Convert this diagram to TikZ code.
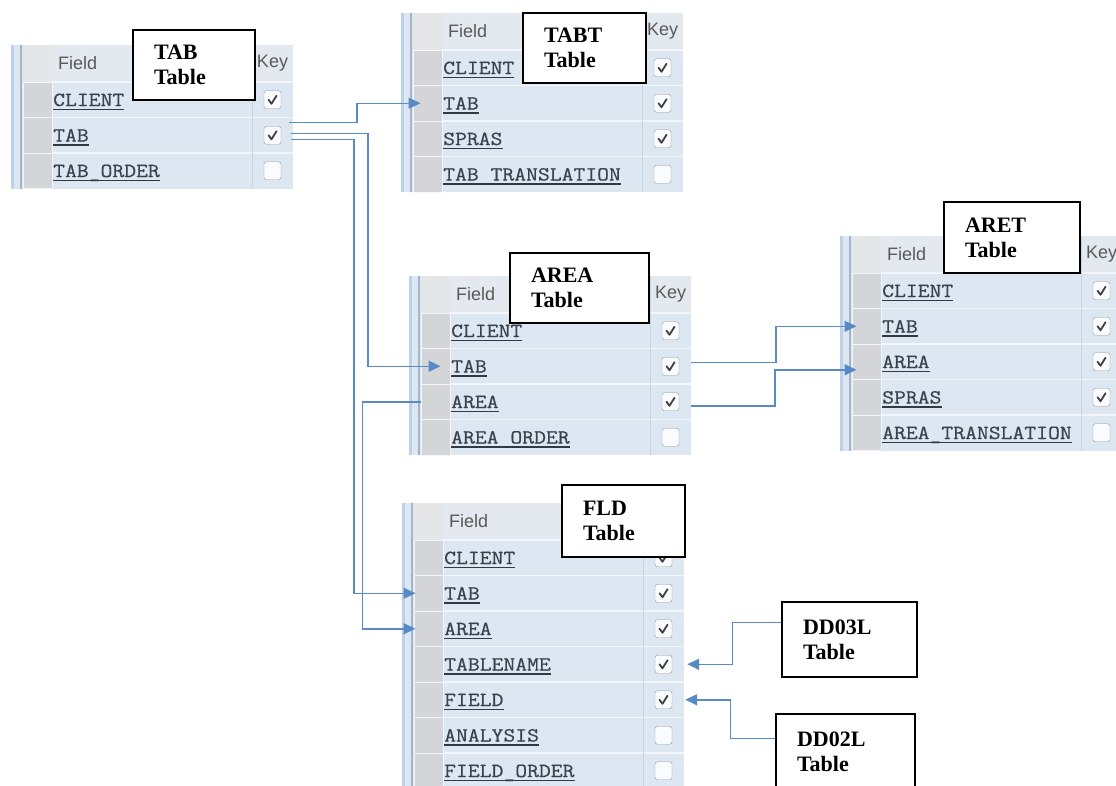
\documentclass[tikz,border=0pt]{standalone}
\usepackage{fontspec}
\usepackage{tikz}
\usetikzlibrary{arrows.meta,calc}
\newfontfamily\fldfont[FakeStretch=1.15,FakeBold=0.6]{Latin Modern Mono}
\newfontfamily\hdrfont{Liberation Sans}
\newfontfamily\lblfont{Liberation Serif}
\definecolor{tblbg}{HTML}{DDE7F2}
\definecolor{hdrbg}{HTML}{E4E9EF}
\definecolor{greycol}{HTML}{D3D5D8}
\definecolor{rowsep}{HTML}{F2F6FA}
\definecolor{edgeA}{HTML}{BBD2EA}
\definecolor{edgeB}{HTML}{A3B6CB}
\definecolor{keysep}{HTML}{C9D3DE}
\definecolor{fldtext}{HTML}{3A434D}
\definecolor{linkblue}{HTML}{5A8AC6}
\definecolor{boxgrey}{HTML}{8E98A3}
\tikzset{
  link/.style={-{Triangle[length=12pt,width=11pt]}, line width=1.5pt, linkblue},
  greycell/.style={rectangle, fill=greycol, draw=rowsep, line width=1pt, minimum width=29pt, minimum height=35.5pt, inner sep=0pt},
  keycell/.style={rectangle, minimum width=41pt, minimum height=35.5pt, inner sep=0pt},
  fldname/.style={anchor=base west, inner sep=0pt, text=fldtext, font=\fldfont\fontsize{20}{20}\selectfont},
  hdrtext/.style={inner sep=0pt, text=black!65, font=\hdrfont\fontsize{18}{18}\selectfont},
  ckbox/.style={rectangle, rounded corners=2.5pt, draw=boxgrey, fill=white!85!tblbg, minimum width=17pt, minimum height=18pt, inner sep=0pt},
  tick/.style={line width=1.8pt, black!75, line cap=round, line join=round},
  uline/.style={line width=1.6pt, fldtext!85!black},
  sepline/.style={rowsep, line width=1.5pt},
  lbl/.style={draw=black, line width=1.4pt, fill=white, align=left, inner xsep=21pt, inner ysep=0pt, font=\lblfont\bfseries\fontsize{22}{25}\selectfont},
}

\begin{document}
\begin{tikzpicture}[x=1pt, y=-1pt]
\useasboundingbox (0,0) rectangle (1116,785);
\fill[white] (0,0) rectangle (1116,785);
% --- TAB table ---
\begin{scope}[shift={(8,45)}]
\fill[tblbg] (3,0) rectangle (285,143.5);
\fill[hdrbg] (44,0) rectangle (285,37);
\fill[greycol!60!white] (15,0) rectangle (44,37);
\node[hdrtext, anchor=west] (tab-hf) at (50,18.5) {Field};
\node[hdrtext] (tab-hk) at (264.5,18.5) {Key};
\foreach \i/\fname/\chk in {1/CLIENT/1, 2/TAB/1, 3/TAB\_ORDER/0} {
  \node[greycell] (tab-\i) at (29.5,{37+35.5*\i-17.75}) {};
  \draw[sepline] (44,{37+35.5*(\i-1)}) -- (285,{37+35.5*(\i-1)});
  \node[fldname] (tab-\i-f) at (45,{37+35.5*\i-11.5}) {\fname};
  \draw[uline] ([yshift=-3.5pt]tab-\i-f.base west) -- ([yshift=-3.5pt]tab-\i-f.base east);
  \node[keycell] (tab-\i-key) at (264.5,{37+35.5*\i-17.75}) {};
  \node[ckbox] at (tab-\i-key) {};
  \ifnum\chk=1\relax \draw[tick] (tab-\i-key.center) ++(-4,0) -- ++(3,4) -- ++(5,-8); \fi
}
\draw[edgeA, line width=3pt] (4,0) -- (4,143.5);
\draw[edgeB, line width=2pt] (13,0) -- (13,143.5);
\draw[keysep, line width=1pt] (244,0) -- (244,143.5);
\end{scope}
% --- TABT table ---
\begin{scope}[shift={(398,13)}]
\fill[tblbg] (3,0) rectangle (285,179);
\fill[hdrbg] (44,0) rectangle (285,37);
\fill[greycol!60!white] (15,0) rectangle (44,37);
\node[hdrtext, anchor=west] (tabt-hf) at (50,18.5) {Field};
\node[hdrtext] (tabt-hk) at (264.5,18.5) {Key};
\foreach \i/\fname/\chk in {1/CLIENT/1, 2/TAB/1, 3/SPRAS/1, 4/TAB\_TRANSLATION/0} {
  \node[greycell] (tabt-\i) at (29.5,{37+35.5*\i-17.75}) {};
  \draw[sepline] (44,{37+35.5*(\i-1)}) -- (285,{37+35.5*(\i-1)});
  \node[fldname] (tabt-\i-f) at (45,{37+35.5*\i-11.5}) {\fname};
  \draw[uline] ([yshift=-3.5pt]tabt-\i-f.base west) -- ([yshift=-3.5pt]tabt-\i-f.base east);
  \node[keycell] (tabt-\i-key) at (264.5,{37+35.5*\i-17.75}) {};
  \node[ckbox] at (tabt-\i-key) {};
  \ifnum\chk=1\relax \draw[tick] (tabt-\i-key.center) ++(-4,0) -- ++(3,4) -- ++(5,-8); \fi
}
\draw[edgeA, line width=3pt] (4,0) -- (4,179);
\draw[edgeB, line width=2pt] (13,0) -- (13,179);
\draw[keysep, line width=1pt] (244,0) -- (244,179);
\end{scope}
% --- AREA table ---
\begin{scope}[shift={(406,276)}]
\fill[tblbg] (3,0) rectangle (285,179);
\fill[hdrbg] (44,0) rectangle (285,37);
\fill[greycol!60!white] (15,0) rectangle (44,37);
\node[hdrtext, anchor=west] (area-hf) at (50,18.5) {Field};
\node[hdrtext] (area-hk) at (264.5,18.5) {Key};
\foreach \i/\fname/\chk in {1/CLIENT/1, 2/TAB/1, 3/AREA/1, 4/AREA\_ORDER/0} {
  \node[greycell] (area-\i) at (29.5,{37+35.5*\i-17.75}) {};
  \draw[sepline] (44,{37+35.5*(\i-1)}) -- (285,{37+35.5*(\i-1)});
  \node[fldname] (area-\i-f) at (45,{37+35.5*\i-11.5}) {\fname};
  \draw[uline] ([yshift=-3.5pt]area-\i-f.base west) -- ([yshift=-3.5pt]area-\i-f.base east);
  \node[keycell] (area-\i-key) at (264.5,{37+35.5*\i-17.75}) {};
  \node[ckbox] at (area-\i-key) {};
  \ifnum\chk=1\relax \draw[tick] (area-\i-key.center) ++(-4,0) -- ++(3,4) -- ++(5,-8); \fi
}
\draw[edgeA, line width=3pt] (4,0) -- (4,179);
\draw[edgeB, line width=2pt] (13,0) -- (13,179);
\draw[keysep, line width=1pt] (244,0) -- (244,179);
\end{scope}
% --- ARET table ---
\begin{scope}[shift={(837,236)}]
\fill[tblbg] (3,0) rectangle (285,214.5);
\fill[hdrbg] (44,0) rectangle (285,37);
\fill[greycol!60!white] (15,0) rectangle (44,37);
\node[hdrtext, anchor=west] (aret-hf) at (50,18.5) {Field};
\node[hdrtext] (aret-hk) at (264.5,18.5) {Key};
\foreach \i/\fname/\chk in {1/CLIENT/1, 2/TAB/1, 3/AREA/1, 4/SPRAS/1, 5/AREA\_TRANSLATION/0} {
  \node[greycell] (aret-\i) at (29.5,{37+35.5*\i-17.75}) {};
  \draw[sepline] (44,{37+35.5*(\i-1)}) -- (285,{37+35.5*(\i-1)});
  \node[fldname] (aret-\i-f) at (45,{37+35.5*\i-11.5}) {\fname};
  \draw[uline] ([yshift=-3.5pt]aret-\i-f.base west) -- ([yshift=-3.5pt]aret-\i-f.base east);
  \node[keycell] (aret-\i-key) at (264.5,{37+35.5*\i-17.75}) {};
  \node[ckbox] at (aret-\i-key) {};
  \ifnum\chk=1\relax \draw[tick] (aret-\i-key.center) ++(-4,0) -- ++(3,4) -- ++(5,-8); \fi
}
\draw[edgeA, line width=3pt] (4,0) -- (4,214.5);
\draw[edgeB, line width=2pt] (13,0) -- (13,214.5);
\draw[keysep, line width=1pt] (244,0) -- (244,214.5);
\end{scope}
% --- FLD table ---
\begin{scope}[shift={(399,503)}]
\fill[tblbg] (3,0) rectangle (285,285.5);
\fill[hdrbg] (44,0) rectangle (285,37);
\fill[greycol!60!white] (15,0) rectangle (44,37);
\node[hdrtext, anchor=west] (fld-hf) at (50,18.5) {Field};
\node[hdrtext] (fld-hk) at (264.5,18.5) {Key};
\foreach \i/\fname/\chk in {1/CLIENT/1, 2/TAB/1, 3/AREA/1, 4/TABLENAME/1, 5/FIELD/1, 6/ANALYSIS/0, 7/FIELD\_ORDER/0} {
  \node[greycell] (fld-\i) at (29.5,{37+35.5*\i-17.75}) {};
  \draw[sepline] (44,{37+35.5*(\i-1)}) -- (285,{37+35.5*(\i-1)});
  \node[fldname] (fld-\i-f) at (45,{37+35.5*\i-11.5}) {\fname};
  \draw[uline] ([yshift=-3.5pt]fld-\i-f.base west) -- ([yshift=-3.5pt]fld-\i-f.base east);
  \node[keycell] (fld-\i-key) at (264.5,{37+35.5*\i-17.75}) {};
  \node[ckbox] at (fld-\i-key) {};
  \ifnum\chk=1\relax \draw[tick] (fld-\i-key.center) ++(-4,0) -- ++(3,4) -- ++(5,-8); \fi
}
\draw[edgeA, line width=3pt] (4,0) -- (4,285.5);
\draw[edgeB, line width=2pt] (13,0) -- (13,285.5);
\draw[keysep, line width=1pt] (244,0) -- (244,285.5);
\end{scope}
% --- label boxes ---
\node[lbl, text width=80pt, minimum height=70pt] (tab-lbl) at (194,65) {TAB\\Table};
\node[lbl, text width=81pt, minimum height=70pt] (tabt-lbl) at (584.5,48) {TABT\\Table};
\node[lbl, text width=97pt, minimum height=70pt] (area-lbl) at (579.5,288) {AREA\\Table};
\node[lbl, text width=94pt, minimum height=71pt] (aret-lbl) at (1012,237.5) {ARET\\Table};
\node[lbl, text width=81pt, minimum height=72pt] (fld-lbl) at (623.5,521) {FLD\\Table};
\node[lbl, text width=93pt, minimum height=75pt] (dd03) at (849.5,639.5) {DD03L\\Table};
\node[lbl, text width=97pt, minimum height=75pt] (dd02) at (845.5,751.5) {DD02L\\Table};
% --- links ---
\draw[link] ([xshift=-4pt,yshift=13pt]tab-2-key.east) -- ++(68,0) |- ([xshift=8pt]tabt-2.west);
\draw[link] ([xshift=-2pt,yshift=2pt]tab-2-key.east) -- ++(77,0) |- ([xshift=20pt]area-2.west);
\draw[link] ([xshift=-2pt,yshift=-4pt]tab-2-key.east) -- ++(63,0) |- ([xshift=2pt]fld-2.west);
\draw[link] (area-3.west) -- ++(-58,0) |- ([xshift=2pt]fld-3.west);
\draw[link] ([yshift=4pt]area-2-key.east) -- ++(85,0) |- ([xshift=5pt]aret-2.west);
\draw[link] ([yshift=-4pt]area-3-key.east) -- ++(84,0) |- ([xshift=5pt,yshift=-8pt]aret-3.west);
\draw[link] ([yshift=17pt]dd03.west) -- ++(-49,0) |- ([xshift=3pt]fld-4-key.east);
\draw[link] ([yshift=13pt]dd02.west) -- ++(-45,0) |- ([xshift=1pt]fld-5-key.east);
\end{tikzpicture}
\end{document}
